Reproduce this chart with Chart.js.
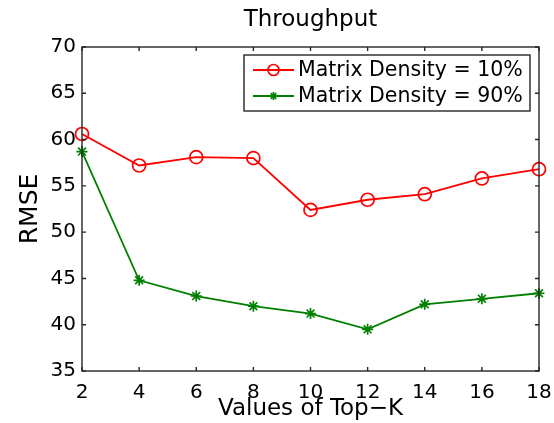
<!DOCTYPE html>
<html>
<head>
<meta charset="utf-8">
<script src="https://cdn.jsdelivr.net/npm/chart.js@4/dist/chart.umd.min.js"></script>
<style>
  html, body { margin: 0; padding: 0; background: #fff; }
  canvas { display: block; }
</style>
</head>
<body>
<canvas id="c" width="554" height="423"></canvas>
<script>
// ---- data ----
const topK = [2, 4, 6, 8, 10, 12, 14, 16, 18];
const density10 = [60.6, 57.2, 58.1, 58.0, 52.4, 53.5, 54.1, 55.8, 56.8];
const density90 = [58.7, 44.8, 43.1, 42.0, 41.2, 39.5, 42.2, 42.8, 43.4];
const seriesLabels = ['Matrix Density = 10%', 'Matrix Density = 90%'];
const chartTitle = 'Throughput';
const xTitle = 'Values of Top\u2212K';
const yTitle = 'RMSE';
const yMin = 35, yMax = 70, yStep = 5;
const xMin = 2, xMax = 18, xStep = 2;

const FONT = 'DejaVu Sans';
const AXIS_COLOR = '#262626';

function toPoints(xs, ys) { return xs.map((x, i) => ({ x: x, y: ys[i] })); }

const boxAndTicks = {
  id: 'boxAndTicks',
  afterDatasetsDraw(chart) {
    const { ctx, chartArea: a, scales } = chart;
    const xs = scales.x, ys = scales.y;
    const tl = 4;
    ctx.save();
    ctx.strokeStyle = AXIS_COLOR;
    ctx.lineWidth = 1.4;
    ctx.beginPath();
    xs.ticks.forEach(t => {
      const px = xs.getPixelForValue(t.value);
      ctx.moveTo(px, a.bottom); ctx.lineTo(px, a.bottom - tl);
      ctx.moveTo(px, a.top); ctx.lineTo(px, a.top + tl);
    });
    ys.ticks.forEach(t => {
      const py = ys.getPixelForValue(t.value);
      ctx.moveTo(a.left, py); ctx.lineTo(a.left + tl, py);
      ctx.moveTo(a.right, py); ctx.lineTo(a.right - tl, py);
    });
    ctx.stroke();
    ctx.strokeRect(a.left, a.top, a.right - a.left, a.bottom - a.top);
    ctx.restore();
  }
};

function drawMarker(ctx, style, x, y, r) {
  ctx.beginPath();
  if (style === 'circle') {
    ctx.arc(x, y, r, 0, Math.PI * 2);
  } else {
    const d = r * Math.SQRT1_2;
    ctx.moveTo(x - d, y - d); ctx.lineTo(x + d, y + d);
    ctx.moveTo(x - d, y + d); ctx.lineTo(x + d, y - d);
    ctx.moveTo(x, y - r); ctx.lineTo(x, y + r);
    ctx.moveTo(x - r, y); ctx.lineTo(x + r, y);
  }
  ctx.stroke();
}

const boxedLegend = {
  id: 'boxedLegend',
  afterDraw(chart) {
    const { ctx, chartArea: a } = chart;
    const w = 286, h = 56;
    const x0 = a.right - 9 - w, y0 = a.top + 8;
    ctx.save();
    ctx.fillStyle = '#fff';
    ctx.fillRect(x0, y0, w, h);
    ctx.strokeStyle = AXIS_COLOR;
    ctx.lineWidth = 1.4;
    ctx.strokeRect(x0, y0, w, h);
    chart.data.datasets.forEach((ds, i) => {
      const cy = y0 + 15 + i * 26;
      ctx.strokeStyle = ds.borderColor;
      ctx.lineWidth = ds.borderWidth;
      ctx.beginPath();
      ctx.moveTo(x0 + 9, cy); ctx.lineTo(x0 + 50, cy);
      ctx.stroke();
      ctx.lineWidth = ds.pointBorderWidth;
      drawMarker(ctx, ds.pointStyle, x0 + 29.5, cy, ds.pointStyle === 'circle' ? 5.5 : 4);
      ctx.fillStyle = '#000';
      ctx.font = '20.5px "' + FONT + '"';
      ctx.textBaseline = 'middle';
      ctx.textAlign = 'left';
      ctx.fillText(ds.label, x0 + 54, cy + 1);
    });
    ctx.restore();
  }
};

new Chart(document.getElementById('c'), {
  type: 'line',
  data: {
    datasets: [
      {
        label: seriesLabels[0],
        data: toPoints(topK, density10),
        borderColor: '#ff0000',
        borderWidth: 1.8,
        pointStyle: 'circle',
        pointRadius: 6.5,
        pointBorderWidth: 1.7,
        pointBackgroundColor: 'rgba(0,0,0,0)',
        pointBorderColor: '#ff0000',
        fill: false,
        tension: 0,
        clip: false
      },
      {
        label: seriesLabels[1],
        data: toPoints(topK, density90),
        borderColor: '#008000',
        borderWidth: 1.8,
        pointStyle: 'star',
        pointRadius: 5.5,
        pointBorderWidth: 1.7,
        pointBackgroundColor: 'rgba(0,0,0,0)',
        pointBorderColor: '#008000',
        fill: false,
        tension: 0,
        clip: false
      }
    ]
  },
  options: {
    responsive: false,
    animation: false,
    devicePixelRatio: 1,
    layout: { padding: { left: 0, right: 15, top: 0, bottom: 0 } },
    plugins: {
      legend: { display: false },
      tooltip: { enabled: false },
      title: {
        display: true,
        text: chartTitle,
        fullSize: false,
        color: '#000',
        font: { family: FONT, size: 23, weight: 'normal' },
        padding: { top: 6, bottom: 13.4 }
      }
    },
    scales: {
      x: {
        type: 'linear',
        min: xMin, max: xMax,
        grid: { display: false, drawTicks: false },
        border: { display: false },
        ticks: { stepSize: xStep, color: '#000', padding: 10, maxRotation: 0,
                 font: { family: FONT, size: 20 } },
        title: { display: true, text: xTitle, color: '#000',
                 font: { family: FONT, size: 23 }, padding: { top: 0, bottom: 0 } },
        afterFit(s) { s.height = 52; s.paddingLeft = 0; s.paddingRight = 0; }
      },
      y: {
        min: yMin, max: yMax,
        grid: { display: false, drawTicks: false },
        border: { display: false },
        ticks: { stepSize: yStep, color: '#000', padding: 6,
                 font: { family: FONT, size: 20 } },
        title: { display: true, text: yTitle, color: '#000',
                 font: { family: FONT, size: 25 }, padding: { top: 15, bottom: 0 } },
        afterFit(s) { s.width = 82; s.paddingTop = 0; s.paddingBottom = 0; }
      }
    }
  },
  plugins: [boxAndTicks, boxedLegend]
});
</script>
</body>
</html>
